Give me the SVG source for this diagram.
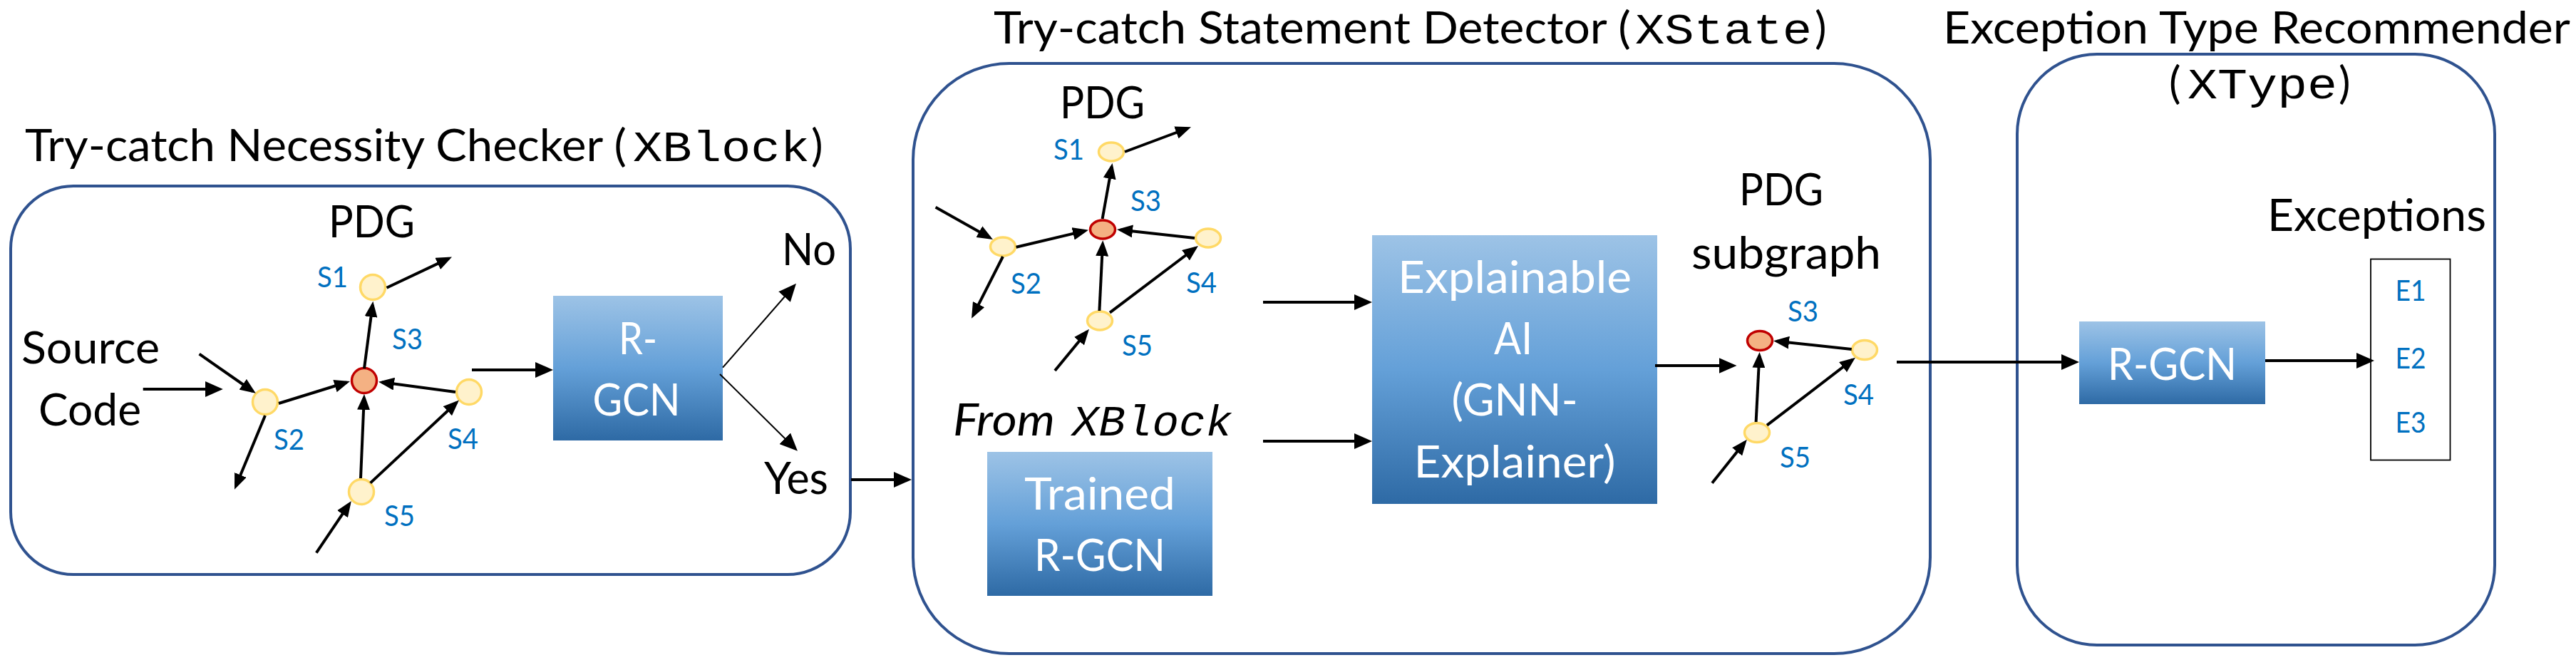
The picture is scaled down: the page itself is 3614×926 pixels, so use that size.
<svg xmlns="http://www.w3.org/2000/svg" width="3614" height="926" viewBox="0 0 3614 926">
<defs>
<style>
.t{font-family:Lato,"Open Sans","DejaVu Sans",sans-serif;font-size:62px;fill:#000}
.w{fill:#fff}
.m{font-family:"Liberation Mono","DejaVu Sans Mono",monospace;font-size:62px;fill:#000}
.s{font-family:Lato,"Open Sans","DejaVu Sans",sans-serif;font-size:40px;fill:#0070C0}
.ex{font-size:41px}
.n{fill:#FFF2CC;stroke:#FFD966;stroke-width:3.5}
.r{fill:#F4B183;stroke:#C00000;stroke-width:3.5}
.panel{fill:none;stroke:#2F528F;stroke-width:4}
.blk{fill:url(#grad)}
.c{stroke:#000;stroke-width:4;fill:none}
.thin{stroke-width:2}
.eb{fill:#fff;stroke:#000;stroke-width:1.8}
</style>
<linearGradient id="grad" x1="0" y1="0" x2="0" y2="1">
<stop offset="0" stop-color="#9DC3E6"/>
<stop offset="0.5" stop-color="#64A0D8"/>
<stop offset="1" stop-color="#2E6AA5"/>
</linearGradient>
<marker id="ah" markerUnits="userSpaceOnUse" markerWidth="22" markerHeight="18" refX="17" refY="9" orient="auto"><path d="M0,0 L22,9 L0,18 z" fill="#000"/></marker>
<marker id="ahb" markerUnits="userSpaceOnUse" markerWidth="25" markerHeight="22" refX="20" refY="11" orient="auto"><path d="M0,0 L25,11 L0,22 z" fill="#000"/></marker>
</defs>
<rect width="3614" height="926" fill="#fff"/>

<g id="panel-xblock">
<rect class="panel" x="15" y="261" width="1178" height="545" rx="88" ry="88"/>
<text class="t" x="35" y="226" textLength="844" lengthAdjust="spacingAndGlyphs">Try-catch Necessity Checker (</text>
<text class="m" x="888" y="226" textLength="248" lengthAdjust="spacingAndGlyphs">XBlock</text>
<text class="t" x="1138" y="226">)</text>
</g>

<g id="panel-xstate">
<rect class="panel" x="1281" y="89" width="1427" height="828" rx="135" ry="135"/>
<text class="t" x="1394" y="61" textLength="894" lengthAdjust="spacingAndGlyphs">Try-catch Statement Detector (</text>
<text class="m" x="2294" y="61" textLength="248" lengthAdjust="spacingAndGlyphs">XState</text>
<text class="t" x="2546" y="61">)</text>
</g>

<g id="panel-xtype">
<rect class="panel" x="2830" y="76" width="670" height="829" rx="112" ry="112"/>
<text class="t" x="2726" y="61" textLength="880" lengthAdjust="spacingAndGlyphs">Exception Type Recommender</text>
<text class="t" x="3043" y="138">(</text>
<text class="m" x="3069" y="138" textLength="210" lengthAdjust="spacingAndGlyphs">XType</text>
<text class="t" x="3281" y="138">)</text>
</g>

<g id="source-code">
<text class="t" x="30" y="510" textLength="194" lengthAdjust="spacingAndGlyphs">Source</text>
<text class="t" x="54" y="597" textLength="144" lengthAdjust="spacingAndGlyphs">Code</text>
</g>

<g id="pdg1">
<text class="t" x="461" y="333" textLength="121" lengthAdjust="spacingAndGlyphs">PDG</text>
<g id="pdg1-s1"><circle class="n" cx="523" cy="403" r="17.5"/><text class="s" x="445" y="403" textLength="43" lengthAdjust="spacingAndGlyphs">S1</text></g>
<g id="pdg1-s3"><circle class="r" cx="511" cy="534" r="17.5"/><text class="s" x="550" y="490" textLength="43" lengthAdjust="spacingAndGlyphs">S3</text></g>
<g id="pdg1-s2"><circle class="n" cx="372" cy="564" r="17.5"/><text class="s" x="384" y="631" textLength="43" lengthAdjust="spacingAndGlyphs">S2</text></g>
<g id="pdg1-s4"><circle class="n" cx="658" cy="550" r="17.5"/><text class="s" x="628" y="630" textLength="43" lengthAdjust="spacingAndGlyphs">S4</text></g>
<g id="pdg1-s5"><circle class="n" cx="507" cy="690" r="17.5"/><text class="s" x="539" y="738" textLength="43" lengthAdjust="spacingAndGlyphs">S5</text></g>
</g>

<g id="rgcn1">
<rect class="blk" x="776" y="415" width="238" height="203"/>
<text class="t w" x="895" y="497" text-anchor="middle" textLength="54" lengthAdjust="spacingAndGlyphs">R-</text>
<text class="t w" x="893" y="583" text-anchor="middle" textLength="123" lengthAdjust="spacingAndGlyphs">GCN</text>
</g>

<g id="out-no"><text class="t" x="1097" y="372" textLength="76" lengthAdjust="spacingAndGlyphs">No</text></g>
<g id="out-yes"><text class="t" x="1072" y="693" textLength="90" lengthAdjust="spacingAndGlyphs">Yes</text></g>

<g id="pdg2">
<text class="t" x="1487" y="166" textLength="119" lengthAdjust="spacingAndGlyphs">PDG</text>
<g id="pdg2-s1"><ellipse class="n" cx="1559" cy="213" rx="17.5" ry="13"/><text class="s" x="1478" y="224" textLength="43" lengthAdjust="spacingAndGlyphs">S1</text></g>
<g id="pdg2-s3"><ellipse class="r" cx="1547" cy="322" rx="17.5" ry="13"/><text class="s" x="1586" y="296" textLength="43" lengthAdjust="spacingAndGlyphs">S3</text></g>
<g id="pdg2-s2"><ellipse class="n" cx="1407" cy="346" rx="17.5" ry="13"/><text class="s" x="1418" y="412" textLength="43" lengthAdjust="spacingAndGlyphs">S2</text></g>
<g id="pdg2-s4"><ellipse class="n" cx="1695" cy="334" rx="17.5" ry="13"/><text class="s" x="1664" y="411" textLength="43" lengthAdjust="spacingAndGlyphs">S4</text></g>
<g id="pdg2-s5"><ellipse class="n" cx="1543" cy="450" rx="17.5" ry="13"/><text class="s" x="1574" y="499" textLength="43" lengthAdjust="spacingAndGlyphs">S5</text></g>
</g>

<g id="from-xblock">
<text class="t" x="1337" y="611" font-style="italic" textLength="143" lengthAdjust="spacingAndGlyphs">From</text>
<text class="m" x="1504" y="611" font-style="italic" font-size="57" textLength="225" lengthAdjust="spacingAndGlyphs">XBlock</text>
</g>

<g id="trained-rgcn">
<rect class="blk" x="1385" y="634" width="316" height="202"/>
<text class="t w" x="1543" y="715" text-anchor="middle" textLength="212" lengthAdjust="spacingAndGlyphs">Trained</text>
<text class="t w" x="1543" y="801" text-anchor="middle" textLength="184" lengthAdjust="spacingAndGlyphs">R-GCN</text>
</g>

<g id="explainable-ai">
<rect class="blk" x="1925" y="330" width="400" height="377"/>
<text class="t w" x="2125" y="411" text-anchor="middle" textLength="328" lengthAdjust="spacingAndGlyphs">Explainable</text>
<text class="t w" x="2123" y="497" text-anchor="middle" textLength="54" lengthAdjust="spacingAndGlyphs">AI</text>
<text class="t w" x="2125" y="583" text-anchor="middle" textLength="177" lengthAdjust="spacingAndGlyphs">(GNN-</text>
<text class="t w" x="2125" y="670" text-anchor="middle" textLength="283" lengthAdjust="spacingAndGlyphs">Explainer)</text>
</g>

<g id="pdg-subgraph">
<text class="t" x="2440" y="288" textLength="118" lengthAdjust="spacingAndGlyphs">PDG</text>
<text class="t" x="2373" y="377" textLength="266" lengthAdjust="spacingAndGlyphs">subgraph</text>
<g id="sub-s3"><ellipse class="r" cx="2469" cy="478" rx="17.5" ry="13.5"/><text class="s" x="2508" y="451" textLength="43" lengthAdjust="spacingAndGlyphs">S3</text></g>
<g id="sub-s4"><ellipse class="n" cx="2616" cy="491" rx="17.5" ry="13.5"/><text class="s" x="2586" y="568" textLength="43" lengthAdjust="spacingAndGlyphs">S4</text></g>
<g id="sub-s5"><ellipse class="n" cx="2465" cy="607" rx="17.5" ry="13.5"/><text class="s" x="2497" y="656" textLength="43" lengthAdjust="spacingAndGlyphs">S5</text></g>
</g>

<g id="rgcn3">
<rect class="blk" x="2917" y="451" width="261" height="116"/>
<text class="t w" x="2957" y="533" textLength="181" lengthAdjust="spacingAndGlyphs">R-GCN</text>
</g>

<g id="exceptions">
<text class="t" x="3181" y="324" textLength="307" lengthAdjust="spacingAndGlyphs">Exceptions</text>
<rect class="eb" x="3326" y="363.5" width="111.5" height="282"/>
<text class="s ex" x="3382" y="422" text-anchor="middle" textLength="43" lengthAdjust="spacingAndGlyphs">E1</text>
<text class="s ex" x="3382" y="517" text-anchor="middle" textLength="43" lengthAdjust="spacingAndGlyphs">E2</text>
<text class="s ex" x="3382" y="607" text-anchor="middle" textLength="43" lengthAdjust="spacingAndGlyphs">E3</text>
</g>

<g id="connectors">
<g class="c" marker-end="url(#ah)">
<line x1="542.5" y1="403.8" x2="629.5" y2="362.6"/>
<line x1="511" y1="517" x2="522.7" y2="427.7"/>
<line x1="279.6" y1="496.7" x2="354.7" y2="549"/>
<line x1="391" y1="566" x2="486.2" y2="536.5"/>
<line x1="372" y1="583" x2="330.9" y2="682.1"/>
<line x1="639" y1="550" x2="536" y2="536.3"/>
<line x1="506" y1="671" x2="510.8" y2="558"/>
<line x1="519.6" y1="677.6" x2="640.3" y2="565"/>
<line x1="443.8" y1="775.6" x2="490" y2="707.1"/>

<line x1="1578" y1="213" x2="1666.3" y2="180"/>
<line x1="1546.6" y1="307" x2="1559.7" y2="233.9"/>
<line x1="1312.6" y1="290.7" x2="1388.6" y2="333.5"/>
<line x1="1425.6" y1="346.7" x2="1522.1" y2="323.9"/>
<line x1="1407" y1="360" x2="1365.3" y2="442.2"/>
<line x1="1676" y1="334" x2="1572" y2="322.5"/>
<line x1="1542.4" y1="436" x2="1547" y2="342.3"/>
<line x1="1557" y1="438.7" x2="1677" y2="348"/>
<line x1="1480" y1="520" x2="1524.8" y2="465.6"/>

<line x1="2597.7" y1="490" x2="2493" y2="478.8"/>
<line x1="2463.6" y1="592" x2="2468.3" y2="499"/>
<line x1="2479" y1="596.7" x2="2599" y2="504.7"/>
<line x1="2402" y1="677.7" x2="2447.7" y2="620.6"/>
</g>
<g class="c" marker-end="url(#ahb)">
<line x1="200.7" y1="546" x2="307.8" y2="546"/>
<line x1="662" y1="519" x2="771" y2="519"/>
<line x1="1194" y1="673" x2="1274" y2="673"/>
<line x1="1772" y1="424" x2="1920" y2="424"/>
<line x1="1772" y1="619" x2="1920" y2="619"/>
<line x1="2322" y1="513" x2="2431.5" y2="513"/>
<line x1="2661" y1="508" x2="2912" y2="508"/>
<line x1="3178" y1="506" x2="3326" y2="506"/>
<line class="thin" x1="1014" y1="515.7" x2="1113.7" y2="401.5"/>
<line class="thin" x1="1010" y1="525" x2="1115.4" y2="629.2"/>
</g>
</g>
</svg>
